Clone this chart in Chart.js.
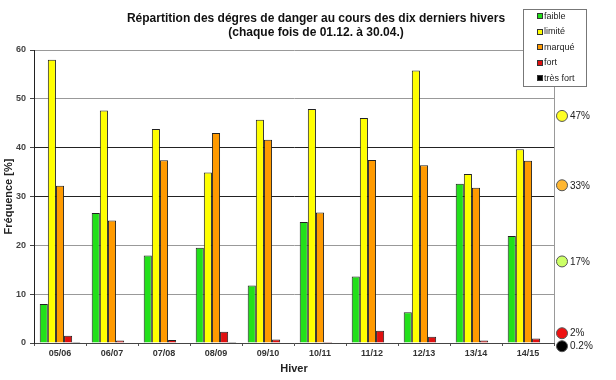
<!DOCTYPE html>
<html>
<head>
<meta charset="utf-8">
<script src="https://cdn.jsdelivr.net/npm/chart.js@4/dist/chart.umd.min.js"></script>
<style>
  html, body { margin: 0; padding: 0; background: #fff; }
  #wrap { width: 616px; height: 380px; }
</style>
</head>
<body>
<div id="wrap"><canvas id="c" width="616" height="380"></canvas></div>
<script>
const winters = ["05/06", "06/07", "07/08", "08/09", "09/10", "10/11", "11/12", "12/13", "13/14", "14/15"];
const faible = [8.0, 26.6, 17.9, 19.5, 11.8, 24.8, 13.6, 6.3, 32.6, 21.9];
const limite = [58.0, 47.6, 43.8, 34.9, 45.7, 47.9, 46.1, 55.8, 34.6, 39.7];
const marque = [32.2, 25.1, 37.4, 43.0, 41.6, 26.7, 37.5, 36.4, 31.8, 37.3];
const fort = [1.5, 0.5, 0.6, 2.3, 0.7, 0.2, 2.5, 1.3, 0.5, 0.9];
const tresFort = [0.2, 0, 0, 0.2, 0, 0, 0, 0, 0, 0];

// long-term averages shown at the right edge
const avgValues = [16.7, 46.5, 32.3, 2.0, 0.2];
const avgLabels = ["17%", "47%", "33%", "2%", "0.2%"];
const avgColors = ["#ccff66", "#ffff22", "#ffb732", "#ee1111", "#000000"];

const FONT = "'Liberation Sans', Arial, sans-serif";

const series = [
  { label: "faible", data: faible, color: "#22e01a" },
  { label: "limité", data: limite, color: "#ffff00" },
  { label: "marqué", data: marque, color: "#ff9a00" },
  { label: "fort", data: fort, color: "#e01010" },
  { label: "très fort", data: tresFort, color: "#000000" },
];

const decor = {
  id: "decor",
  afterDraw(chart) {
    const ctx = chart.ctx;
    const area = chart.chartArea;
    const y = chart.scales.y;
    ctx.save();

    // right border of plot
    ctx.strokeStyle = "#999";
    ctx.lineWidth = 1;
    ctx.beginPath();
    ctx.moveTo(Math.round(area.right) + 0.5, area.top);
    ctx.lineTo(Math.round(area.right) + 0.5, area.bottom);
    ctx.stroke();

    // title
    ctx.fillStyle = "#111";
    ctx.font = "bold 12px " + FONT;
    ctx.textAlign = "center";
    ctx.textBaseline = "middle";
    ctx.fillText("Répartition des dégres de danger au cours des dix derniers hivers", 316, 19);
    ctx.fillText("(chaque fois de 01.12. à 30.04.)", 316, 33);

    // legend box
    ctx.fillStyle = "#fff";
    ctx.fillRect(523.5, 9.5, 63, 77);
    ctx.strokeStyle = "#777";
    ctx.strokeRect(523.5, 9.5, 63, 77);
    ctx.font = "9px " + FONT;
    ctx.textAlign = "left";
    series.forEach((s, i) => {
      const ly = 16 + i * 15.5;
      ctx.fillStyle = s.color;
      ctx.fillRect(537.5, Math.round(ly) - 2.5, 5, 5);
      ctx.strokeStyle = "#333";
      ctx.strokeRect(537.5, Math.round(ly) - 2.5, 5, 5);
      ctx.fillStyle = "#222";
      ctx.fillText(s.label, 544, ly + 0.5);
    });

    // average markers
    ctx.font = "10px " + FONT;
    let prev = -Infinity;
    const order = avgValues.map((v, i) => i).sort((a, b) => avgValues[b] - avgValues[a]);
    order.forEach((i) => {
      let py = y.getPixelForValue(avgValues[i]);
      if (py - prev < 13) py = prev + 13;
      prev = py;
      ctx.beginPath();
      ctx.arc(562, py, 5.5, 0, Math.PI * 2);
      ctx.fillStyle = avgColors[i];
      ctx.fill();
      ctx.strokeStyle = "#555";
      ctx.stroke();
      ctx.fillStyle = "#222";
      ctx.fillText(avgLabels[i], 570, py + 0.5);
    });
    ctx.restore();
  },
};

new Chart(document.getElementById("c"), {
  type: "bar",
  data: {
    labels: winters,
    datasets: series.map((s) => ({
      label: s.label,
      data: s.data,
      backgroundColor: s.color,
      borderColor: "#222",
      borderWidth: 1,
      categoryPercentage: 0.78,
      barPercentage: 1.0,
    })),
  },
  options: {
    responsive: false,
    animation: false,
    layout: { padding: { top: 50, right: 62, left: 0, bottom: 0 } },
    plugins: { legend: { display: false }, title: { display: false }, tooltip: { enabled: false } },
    scales: {
      x: {
        grid: { drawOnChartArea: false, drawTicks: true, tickLength: 3, color: "#555", offset: true },
        border: { color: "#444" },
        ticks: { font: { family: FONT, size: 9, weight: "bold" }, color: "#333", padding: 2 },
        title: { display: true, text: "Hiver", font: { family: FONT, size: 11, weight: "bold" }, color: "#222", padding: { top: 4, bottom: 4 } },
        afterFit: (axis) => { axis.height = 37; },
      },
      y: {
        min: 0,
        max: 60,
        ticks: { stepSize: 10, font: { family: FONT, size: 9, weight: "bold" }, color: "#444", padding: 4 },
        grid: {
          color: (c) => (c.tick && (c.tick.value === 30 || c.tick.value === 40) ? "#222" : "#999"),
          tickColor: "#444",
          tickLength: 4,
        },
        border: { color: "#222" },
        title: { display: true, text: "Fréquence [%]", font: { family: FONT, size: 11, weight: "bold" }, color: "#222", padding: { top: 2, bottom: 2 } },
        afterFit: (axis) => { axis.width = 34; },
      },
    },
  },
  plugins: [decor],
});
</script>
</body>
</html>
